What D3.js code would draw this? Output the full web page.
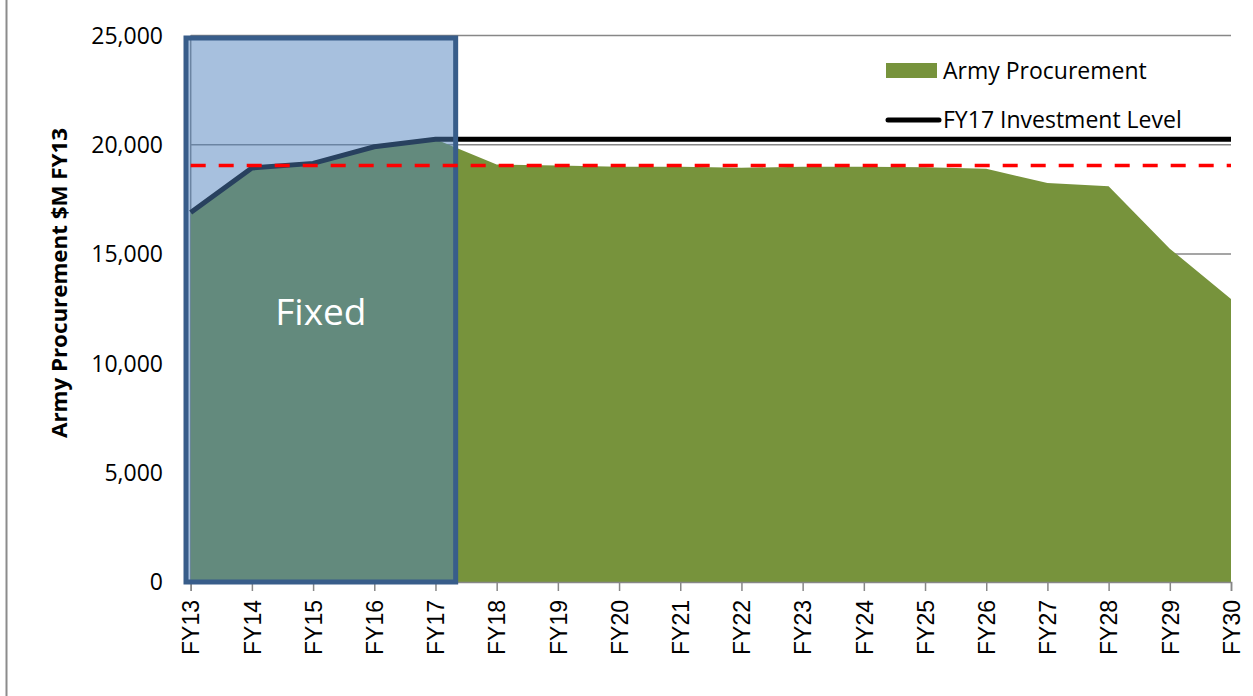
<!DOCTYPE html>
<html>
<head>
<meta charset="utf-8">
<script src="https://cdn.jsdelivr.net/npm/d3@7"></script>
<style>
  body { margin: 0; background: #fff; }
  svg { display: block; }
</style>
</head>
<body>
<svg id="chart" width="1253" height="696"></svg>
<script>
// fiscal years on the x axis
let YEARS = ['FY13', 'FY14', 'FY15', 'FY16', 'FY17', 'FY18', 'FY19', 'FY20', 'FY21',
             'FY22', 'FY23', 'FY24', 'FY25', 'FY26', 'FY27', 'FY28', 'FY29', 'FY30'];

// army procurement, $M FY13 (green area)
let PROCUREMENT = [16900, 18940, 19150, 19910, 20250, 19100, 19050, 19000, 19000,
                   18950, 19000, 19000, 18970, 18900, 18250, 18100, 15250, 12950];

// FY17 investment level line: actuals up to FY17, then held flat
let INVESTMENT = [16900, 18940, 19150, 19910, 20250, 20250, 20250, 20250, 20250,
                  20250, 20250, 20250, 20250, 20250, 20250, 20250, 20250, 20250];

// red dashed reference level
let REFERENCE_LEVEL = 19050;

let Y_TICKS = [0, 5000, 10000, 15000, 20000, 25000];
let FIXED_YEARS = ['FY13', 'FY17'];

let GREEN = '#77933c';
let BOX_FILL = '#4f81bd';
let BOX_STROKE = '#385d8a';
let GRID = '#878787';

let svg = d3.select('#chart');

// outer frame edge on the left
svg.append('line')
    .attr('x1', 6.5).attr('x2', 6.5)
    .attr('y1', 0).attr('y2', 696)
    .attr('stroke', '#8c8c8c')
    .attr('stroke-width', 2);

let x = d3.scalePoint().domain(YEARS).range([190.7, 1231]);
let y = d3.scaleLinear().domain([0, 25000]).range([582, 35.5]);

// gridlines
svg.append('g')
    .selectAll('line')
    .data(Y_TICKS.filter(t => t > 0))
    .enter().append('line')
    .attr('x1', x('FY13')).attr('x2', x('FY30'))
    .attr('y1', t => y(t)).attr('y2', t => y(t))
    .attr('stroke', GRID)
    .attr('stroke-width', 1.5);

// y axis line
svg.append('line')
    .attr('x1', x('FY13')).attr('x2', x('FY13'))
    .attr('y1', y(0)).attr('y2', y(25000))
    .attr('stroke', GRID)
    .attr('stroke-width', 1.5);

// procurement area
let rows = YEARS.map((yr, i) => ({ year: yr, value: PROCUREMENT[i], level: INVESTMENT[i] }));

let area = d3.area()
    .x(d => x(d.year))
    .y0(y(0))
    .y1(d => y(d.value));

svg.append('path')
    .datum(rows)
    .attr('d', area)
    .attr('fill', GREEN);

// investment level line
let line = d3.line()
    .x(d => x(d.year))
    .y(d => y(d.level));

svg.append('path')
    .datum(rows)
    .attr('d', line)
    .attr('fill', 'none')
    .attr('stroke', '#000')
    .attr('stroke-width', 5);

// x axis
let xAxis = d3.axisBottom(x).tickSize(9).tickPadding(10);
let gx = svg.append('g')
    .attr('transform', `translate(0,${y(0)})`)
    .call(xAxis);
gx.select('.domain').attr('stroke', GRID).attr('stroke-width', 1.5);
gx.selectAll('.tick line').attr('stroke', GRID).attr('stroke-width', 1.5);
gx.selectAll('.tick text')
    .attr('font-family', '"Liberation Sans", Arial, sans-serif')
    .attr('font-size', 23)
    .attr('fill', '#000')
    .attr('transform', 'rotate(-90)')
    .attr('text-anchor', 'end')
    .attr('x', -18)
    .attr('y', 0)
    .attr('dy', '0.36em');

// y tick labels
svg.append('g')
    .selectAll('text')
    .data(Y_TICKS)
    .enter().append('text')
    .attr('x', 163)
    .attr('y', t => y(t))
    .attr('dy', '0.36em')
    .attr('text-anchor', 'end')
    .attr('font-family', '"Open Sans", sans-serif')
    .attr('font-size', 23)
    .attr('fill', '#000')
    .text(t => d3.format(',')(t));

// y axis title
svg.append('text')
    .attr('transform', 'translate(67,283) rotate(-90)')
    .attr('text-anchor', 'middle')
    .attr('font-family', '"Open Sans", sans-serif')
    .attr('font-weight', 'bold')
    .attr('font-size', 21)
    .attr('textLength', 310)
    .attr('lengthAdjust', 'spacingAndGlyphs')
    .text('Army Procurement $M FY13');

// "Fixed" box over FY13-FY17
let step = x.step();
let boxLeft = x(FIXED_YEARS[0]) - 4.7;
let boxRight = x(FIXED_YEARS[1]) + step * 0.33;
svg.append('rect')
    .attr('x', boxLeft)
    .attr('y', y(25000) + 2.5)
    .attr('width', boxRight - boxLeft)
    .attr('height', y(0) - y(25000) - 2.5)
    .attr('fill', BOX_FILL)
    .attr('fill-opacity', 0.5)
    .attr('stroke', BOX_STROKE)
    .attr('stroke-width', 5);

svg.append('text')
    .attr('x', (boxLeft + boxRight) / 2)
    .attr('y', 325)
    .attr('text-anchor', 'middle')
    .attr('font-family', '"Open Sans", sans-serif')
    .attr('font-size', 37)
    .attr('fill', '#fff')
    .text('Fixed');

// red dashed reference line
svg.append('line')
    .attr('x1', x('FY13')).attr('x2', x('FY30'))
    .attr('y1', y(REFERENCE_LEVEL)).attr('y2', y(REFERENCE_LEVEL))
    .attr('stroke', '#ff0000')
    .attr('stroke-width', 3.5)
    .attr('stroke-dasharray', '15,13');

// legend
let legend = svg.append('g');
legend.append('rect')
    .attr('x', 886).attr('y', 63)
    .attr('width', 51).attr('height', 15)
    .attr('fill', GREEN);
legend.append('text')
    .attr('x', 943).attr('y', 70.5)
    .attr('dy', '0.36em')
    .attr('font-family', '"Open Sans", sans-serif')
    .attr('font-size', 23)
    .text('Army Procurement');
legend.append('line')
    .attr('x1', 888).attr('x2', 939)
    .attr('y1', 120).attr('y2', 120)
    .attr('stroke', '#000')
    .attr('stroke-width', 5)
    .attr('stroke-linecap', 'round');
legend.append('text')
    .attr('x', 943).attr('y', 120)
    .attr('dy', '0.36em')
    .attr('font-family', '"Open Sans", sans-serif')
    .attr('font-size', 23)
    .text('FY17 Investment Level');
</script>
</body>
</html>
